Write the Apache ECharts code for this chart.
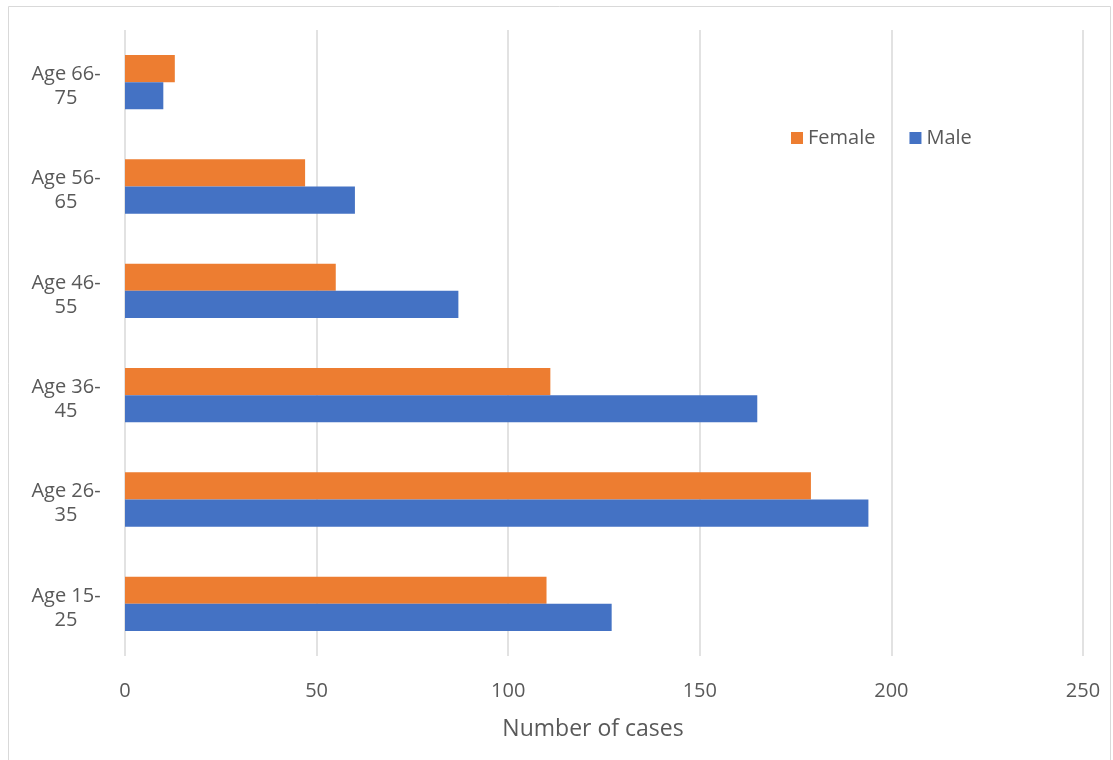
<!DOCTYPE html>
<html>
<head>
<meta charset="utf-8">
<script src="https://cdn.jsdelivr.net/npm/echarts@6/dist/echarts.min.js"></script>
<style>
  html, body { margin: 0; padding: 0; background: #fff; }
  #chart { width: 1113px; height: 760px; }
</style>
</head>
<body>
<div id="chart"></div>
<script>
// Age groups, listed bottom to top
const ageGroups = ['Age 15-25', 'Age 26-35', 'Age 36-45', 'Age 46-55', 'Age 56-65', 'Age 66-75'];
const maleCases = [127, 194, 165, 87, 60, 10];
const femaleCases = [110, 179, 111, 55, 47, 13];
const xTicks = [0, 50, 100, 150, 200, 250];

const FONT = '"Open Sans", "Noto Sans", sans-serif';
const TEXT = '#595959';

const chart = echarts.init(document.getElementById('chart'));
chart.setOption({
  animation: false,
  backgroundColor: '#fff',
  graphic: [{
    type: 'rect',
    shape: { x: 8.5, y: 6.5, width: 1102, height: 800 },
    style: { fill: 'none', stroke: '#d9d9d9', lineWidth: 1 },
    silent: true
  }],
  grid: [
    { left: 125, right: 30, top: 30, bottom: 104 },
    // label-only grid, nudged down a little so the two-line labels sit lower
    { left: 125, right: 30, top: 34, bottom: 100 }
  ],
  legend: {
    data: ['Female', 'Male'],
    left: 786,
    top: 123,
    itemWidth: 12,
    itemHeight: 12,
    itemGap: 34,
    icon: 'rect',
    textStyle: { color: TEXT, fontFamily: FONT, fontSize: 20 }
  },
  xAxis: [
    {
      type: 'value',
      gridIndex: 0,
      min: xTicks[0],
      max: xTicks[xTicks.length - 1],
      interval: 50,
      name: 'Number of cases',
      nameLocation: 'middle',
      nameGap: 62,
      nameTextStyle: { color: TEXT, fontFamily: FONT, fontSize: 23, padding: [0, 22, 0, 0] },
      axisLine: { show: false },
      axisTick: { show: false },
      axisLabel: { color: TEXT, fontFamily: FONT, fontSize: 20, margin: 25 },
      splitLine: { lineStyle: { color: '#d9d9d9', width: 1.5 } }
    },
    {
      type: 'value',
      gridIndex: 1,
      show: false
    }
  ],
  yAxis: [
    {
      type: 'category',
      gridIndex: 0,
      data: ageGroups,
      axisLine: { show: false },
      axisTick: { show: false },
      axisLabel: { show: false }
    },
    {
      type: 'category',
      gridIndex: 1,
      data: ageGroups,
      axisLine: { show: false },
      axisTick: { show: false },
      splitLine: { show: false },
      axisLabel: {
        color: TEXT,
        fontFamily: FONT,
        fontSize: 20,
        lineHeight: 24,
        align: 'center',
        margin: 59,
        formatter: v => v.replace('-', '-\n')
      }
    }
  ],
  series: [
    {
      name: 'Female',
      type: 'bar',
      data: femaleCases,
      barGap: '0%',
      barCategoryGap: '48%',
      itemStyle: { color: '#ED7D31' }
    },
    {
      name: 'Male',
      type: 'bar',
      data: maleCases,
      barGap: '0%',
      barCategoryGap: '48%',
      itemStyle: { color: '#4472C4' }
    }
  ]
});
</script>
</body>
</html>
